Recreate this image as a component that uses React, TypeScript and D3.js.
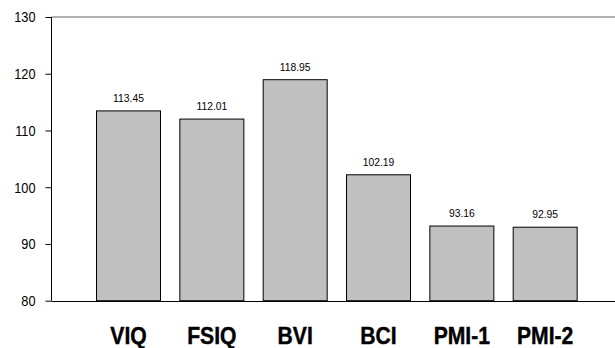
import React, { useEffect, useRef } from "react";
import * as d3 from "d3";

const categories = ["VIQ", "FSIQ", "BVI", "BCI", "PMI-1", "PMI-2"];
const values = [113.45, 112.01, 118.95, 102.19, 93.16, 92.95];
const valueLabels = ["113.45", "112.01", "118.95", "102.19", "93.16", "92.95"];
const yTicks = [80, 90, 100, 110, 120, 130];

const FONT = "'Liberation Sans Narrow', 'Arial Narrow', 'Liberation Sans', sans-serif";

export default function App() {
  const ref = useRef<SVGSVGElement>(null);
  useEffect(() => {
    const svg = d3.select(ref.current);
    svg.selectAll("*").remove();
    const y = d3.scaleLinear().domain([80, 130]).range([300.7, 17]);
    const x = d3
      .scaleBand()
      .domain(categories)
      .range([86.35, 586.35])
      .paddingInner(0.232)
      .paddingOuter(0.116);
    const axisX = 51.5;

    // top gray line
    svg.append("line")
      .attr("x1", axisX).attr("x2", 615)
      .attr("y1", y(130)).attr("y2", y(130))
      .attr("stroke", "#b0b0b0").attr("stroke-width", 2);

    // bars
    svg.append("g").selectAll("rect")
      .data(categories)
      .join("rect")
      .attr("x", (d) => x(d)! + 0.5)
      .attr("width", x.bandwidth())
      .attr("y", (d, i) => y(values[i]))
      .attr("height", (d, i) => y(80) - y(values[i]))
      .attr("fill", "#c0c0c0")
      .attr("stroke", "#000")
      .attr("stroke-width", 1);

    // value labels
    svg.append("g").selectAll("text")
      .data(categories)
      .join("text")
      .attr("transform", (d, i) => `translate(${x(d)! + x.bandwidth() / 2 + 0.5},${y(values[i]) - 9}) scale(0.9,1)`)
      .attr("text-anchor", "middle")
      .attr("font-family", FONT)
      .attr("font-size", 11.5)
      .attr("fill", "#000")
      .text((d, i) => valueLabels[i]);

    // y axis
    const ay = svg.append("g").attr("transform", `translate(${axisX},0)`);
    ay.call(d3.axisLeft(y).tickValues(yTicks).tickSize(6).tickPadding(4).tickFormat(d3.format("d")) as any);
    ay.select(".domain").remove();
    ay.append("line").attr("x1", 0).attr("x2", 0).attr("y1", y(130)).attr("y2", y(80)).attr("stroke", "#000");
    ay.selectAll(".tick line").attr("stroke", "#000");
    ay.selectAll(".tick text")
      .attr("x", null)
      .attr("transform", "translate(-16,0) scale(0.85,1)")
      .attr("font-family", FONT)
      .attr("font-size", 15)
      .attr("fill", "#000");

    // x axis line
    svg.append("line")
      .attr("x1", axisX).attr("x2", 615)
      .attr("y1", Math.round(y(80)) + 0.5).attr("y2", Math.round(y(80)) + 0.5)
      .attr("stroke", "#000");

    // category labels
    svg.append("g").selectAll("text")
      .data(categories)
      .join("text")
      .attr("transform", (d) => `translate(${x(d)! + x.bandwidth() / 2 + 0.5},344) scale(0.92,1)`)
      .attr("text-anchor", "middle")
      .attr("font-family", FONT)
      .attr("font-weight", "bold")
      .attr("font-size", 23)
      .attr("stroke", "#000")
      .attr("stroke-width", 0.4)
      .attr("fill", "#000")
      .text((d) => d);
  }, []);
  return (
    <svg
      ref={ref}
      width={615}
      height={348}
      style={{ position: "absolute", left: 0, top: 0, background: "#fff" }}
    />
  );
}
